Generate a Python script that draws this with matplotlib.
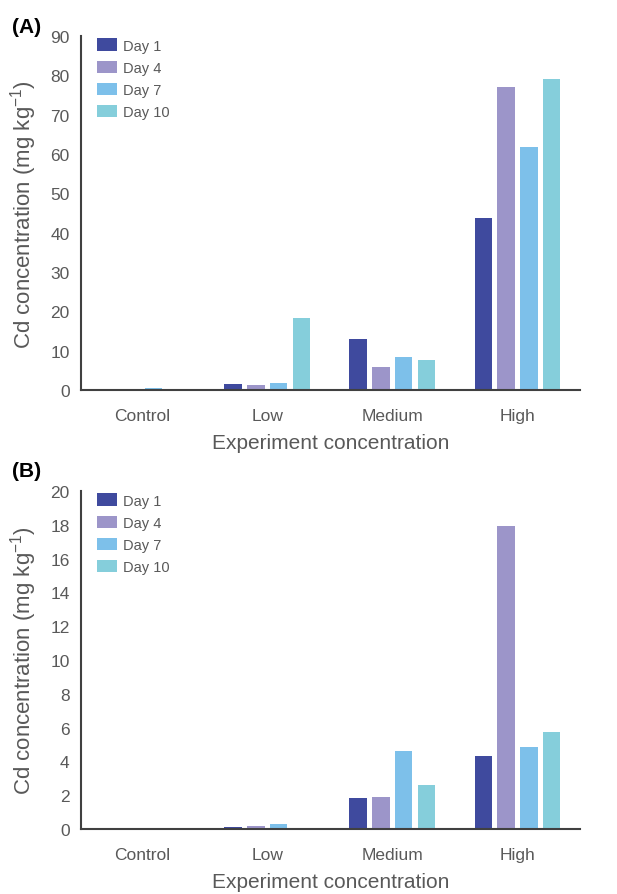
import matplotlib
matplotlib.use('Agg')
import matplotlib.pyplot as plt
import numpy as np

plt.rcParams['font.family'] = ['Liberation Sans', 'DejaVu Sans']
plt.rcParams['mathtext.default'] = 'regular'

groups = ['Control', 'Low', 'Medium', 'High']
days = ['Day 1', 'Day 4', 'Day 7', 'Day 10']
colors = ['#3f4a9e', '#9c95c9', '#7dc0ea', '#85cedb']

# panel A values (mg/kg), one list per day
a_day1 = [0.0, 1.5, 13.0, 43.7]
a_day4 = [0.0, 1.2, 5.9, 77.1]
a_day7 = [0.6, 1.9, 8.5, 61.7]
a_day10 = [0.0, 18.4, 7.6, 79.2]

# panel B values
b_day1 = [0.0, 0.12, 1.86, 4.31]
b_day4 = [0.0, 0.20, 1.90, 17.9]
b_day7 = [0.0, 0.28, 4.63, 4.83]
b_day10 = [0.0, 0.07, 2.61, 5.72]

grey = '#595959'


def drawPanel(ax, series, ymax, ystep):
    x = np.arange(len(groups))
    step = 0.182
    for i, vals in enumerate(series):
        ax.bar(x + (i - 1.5) * step, vals, width=0.14, color=colors[i], label=days[i])
    ax.set_xlim(-0.49, 3.5)
    ax.set_ylim(0, ymax)
    ax.set_yticks(np.arange(0, ymax + 1, ystep))
    ax.set_xticks(x)
    ax.set_xticklabels(groups)
    ax.tick_params(axis='both', length=0, colors=grey, labelsize=12.5)
    ax.tick_params(axis='y', pad=8)
    ax.tick_params(axis='x', pad=13)
    for s in ['top', 'right']:
        ax.spines[s].set_visible(False)
    for s in ['left', 'bottom']:
        ax.spines[s].set_color('#404040')
        ax.spines[s].set_linewidth(1.5)
    ax.set_xlabel('Experiment concentration', fontsize=15, color=grey, labelpad=7)
    ax.set_ylabel('Cd concentration (mg kg$^{-1}$)', fontsize=16, color=grey, labelpad=8)
    ax.legend(loc='upper left', bbox_to_anchor=(0.02, 1.01), frameon=False, fontsize=10.5,
              labelcolor=grey, handlelength=1.4, handleheight=0.9, handletextpad=0.4,
              labelspacing=0.55, borderaxespad=0)


fig = plt.figure(figsize=(6.17, 8.95), dpi=100)
axA = fig.add_axes([0.131, 0.563, 0.809, 0.3955])
axB = fig.add_axes([0.131, 0.0726, 0.809, 0.3777])

drawPanel(axA, [a_day1, a_day4, a_day7, a_day10], 90, 10)
drawPanel(axB, [b_day1, b_day4, b_day7, b_day10], 20, 2)

fig.text(12 / 617, 1 - 33 / 895, '(A)', fontsize=15, fontweight='bold', va='baseline')
fig.text(12 / 617, 1 - 477 / 895, '(B)', fontsize=15, fontweight='bold', va='baseline')

fig.savefig('out.png', dpi=100)
